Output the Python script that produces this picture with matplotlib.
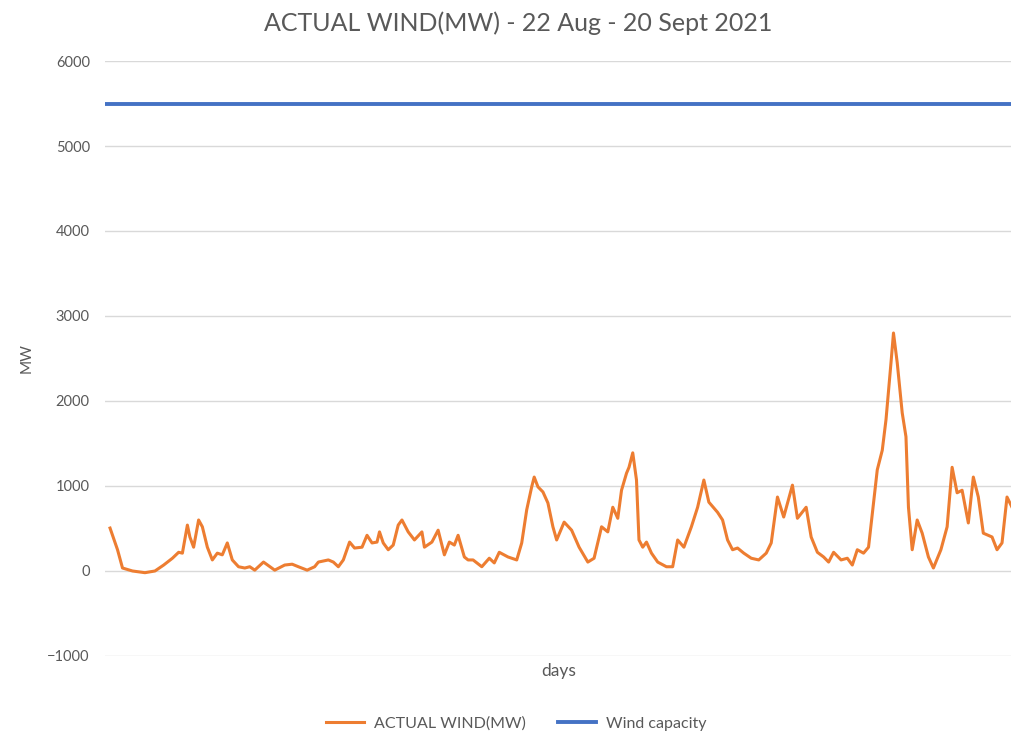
import matplotlib.pyplot as plt

# hourly samples from 22 Aug 2021 00:00
hours = [0, 6, 10, 18, 28, 36, 43, 50, 55, 58, 62, 64, 67, 71, 74, 78, 82, 86, 90, 94,
         98, 103, 108, 112, 116, 123, 132, 140, 146, 151, 158, 164, 167, 175, 179, 183,
         187, 192, 196, 202, 206, 210, 214, 216, 219, 223, 227, 231, 234, 239, 244, 250,
         252, 258, 263, 268, 272, 276, 279, 284, 287, 291, 298, 304, 308, 312, 319, 326,
         330, 334, 338, 340, 343, 347, 351, 355, 358, 364, 370, 376, 383, 388, 394, 399,
         403, 407, 410, 414, 416, 419, 422, 424, 427, 430, 434, 439, 446, 451, 455, 460,
         466, 471, 476, 480, 487, 491, 495, 499, 503, 508, 514, 520, 526, 530, 535, 540,
         547, 551, 558, 562, 567, 572, 576, 580, 586, 591, 595, 599, 604, 608, 612, 615,
         619, 622, 626, 628, 631, 635, 638, 640, 643, 647, 651, 656, 660, 666, 671, 675,
         679, 683, 688, 692, 696, 700, 707, 711, 715, 719, 723]

actual_wind = [505, 250, 35, 0, -20, 0, 70, 150, 220, 210, 540, 400, 280, 600, 520, 280,
               130, 210, 190, 330, 130, 50, 35, 50, 10, 105, 10, 70, 80, 50, 10, 50, 105,
               130, 105, 50, 130, 340, 270, 280, 420, 330, 340, 460, 330, 250, 305, 540,
               600, 460, 365, 460, 280, 340, 480, 190, 340, 305, 420, 165, 130, 130, 50,
               150, 95, 220, 165, 130, 330, 720, 990, 1105, 990, 930, 800, 520, 365, 575,
               480, 280, 105, 150, 520, 460, 750, 620, 950, 1150, 1220, 1390, 1070, 365,
               280, 340, 210, 105, 50, 50, 365, 280, 520, 750, 1070, 810, 690, 600, 365,
               250, 270, 210, 150, 130, 210, 330, 870, 635, 1010, 620, 750, 400, 220, 165,
               105, 220, 130, 150, 70, 250, 210, 280, 800, 1190, 1420, 1780, 2450, 2800,
               2450, 1860, 1580, 750, 250, 600, 445, 165, 35, 250, 520, 1220, 920, 950,
               565, 1105, 870, 445, 400, 250, 330, 870, 750]

wind_capacity = 5500

plt.rcParams['font.family'] = 'Lato'
grey = '#595959'
fig = plt.figure(figsize=(10.12, 7.35), dpi=100)
ax = fig.add_axes([0.1038, 0.1075, 0.8962, 0.8095])

ax.plot([hours[0] - 3, hours[-1] + 3], [wind_capacity, wind_capacity],
        color='#4472C4', linewidth=2.8, label='Wind capacity', zorder=3)
ax.plot(hours, actual_wind, color='#ED7D31', linewidth=2.2,
        label='ACTUAL WIND(MW)', zorder=4)

ax.set_xlim(-4, 723)
ax.set_ylim(-1000, 6000)
ax.set_yticks(range(-1000, 6001, 1000))
ax.set_xticks([])
ax.grid(axis='y', color='#d9d9d9', linewidth=1.0)
ax.set_axisbelow(True)
for s in ax.spines.values():
    s.set_visible(False)
ax.tick_params(axis='y', length=0, labelsize=10.5, labelcolor=grey, pad=11)

ax.set_ylabel('MW', fontsize=11, color=grey, labelpad=10)
ax.set_xlabel('days', fontsize=12.5, color=grey, labelpad=5)
fig.suptitle('ACTUAL WIND(MW) - 22 Aug - 20 Sept 2021', fontsize=18,
             color=grey, y=0.984, x=0.512)

handles, labels = ax.get_legend_handles_labels()
fig.legend(handles[::-1], labels[::-1], loc='lower center', ncol=2,
           frameon=False, fontsize=11.5, bbox_to_anchor=(0.51, -0.014),
           handlelength=2.4, handletextpad=0.6, columnspacing=2.0,
           labelcolor=grey)

fig.savefig('out.png', dpi=100)
